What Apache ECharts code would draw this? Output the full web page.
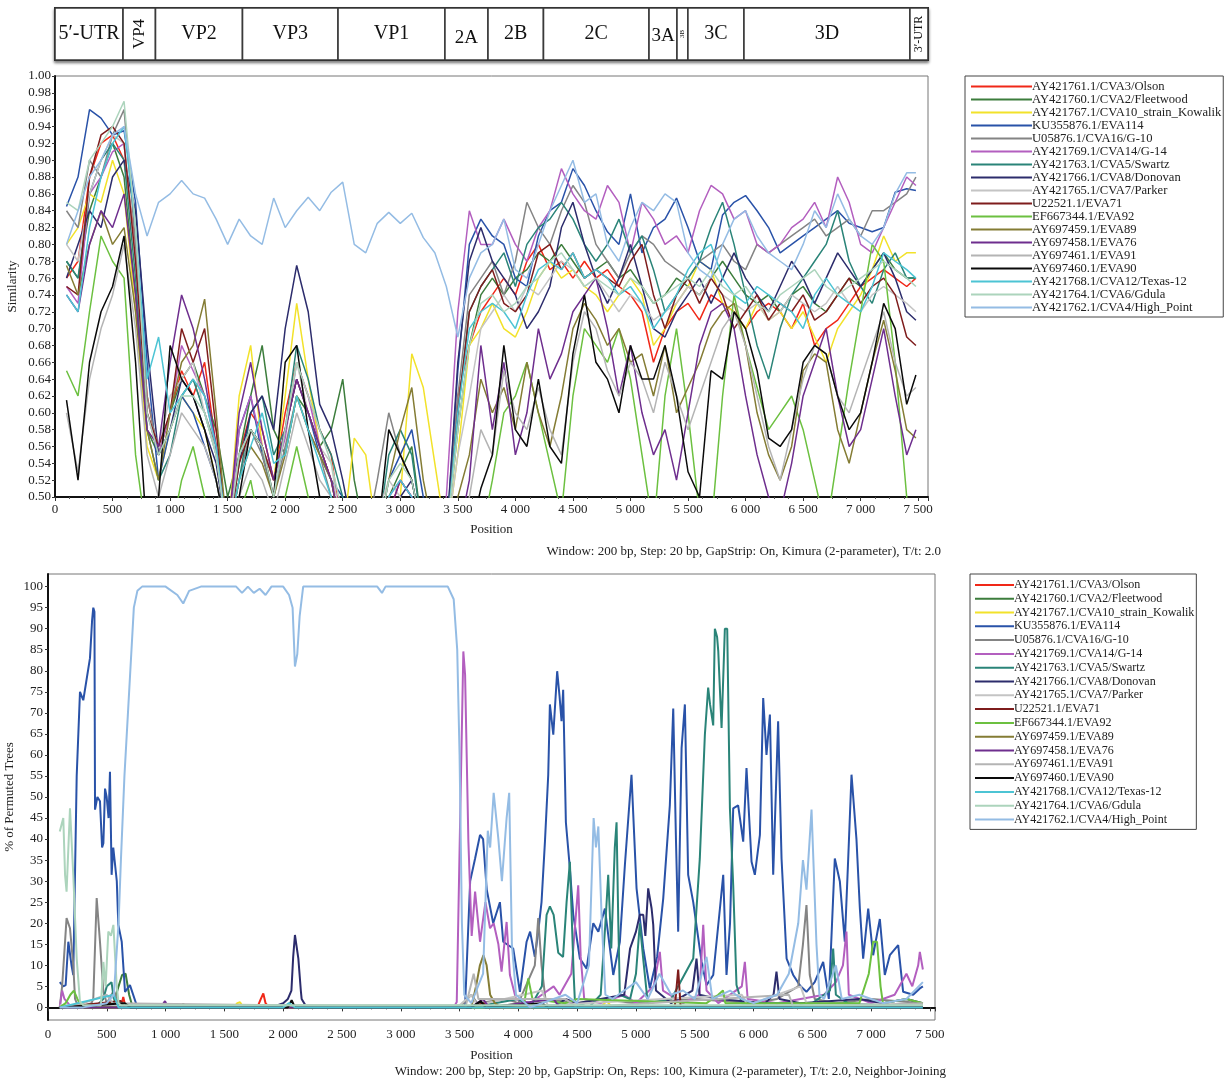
<!DOCTYPE html>
<html><head><meta charset="utf-8">
<script src="https://cdn.jsdelivr.net/npm/echarts@6/dist/echarts.min.js"></script>
<style>html,body{margin:0;padding:0;background:#fff}#c{width:1227px;height:1081px}</style>
</head><body><div id="c"></div><script>
// ---------- genome map ----------
const genomeRegions = ['5′-UTR','VP4','VP2','VP3','VP1','2A','2B','2C','3A','3B','3C','3D','3′-UTR'];
const regionStart = [0,591,873,1629,2459,3388,3762,4244,5161,5404,5499,5986,7428];
const regionEnd   = [591,873,1629,2459,3388,3762,4244,5161,5404,5499,5986,7428,7585];

// ---------- strains ----------
const strainNames = ['AY421761.1/CVA3/Olson','AY421760.1/CVA2/Fleetwood','AY421767.1/CVA10_strain_Kowalik','KU355876.1/EVA114','U05876.1/CVA16/G-10','AY421769.1/CVA14/G-14','AY421763.1/CVA5/Swartz','AY421766.1/CVA8/Donovan','AY421765.1/CVA7/Parker','U22521.1/EVA71','EF667344.1/EVA92','AY697459.1/EVA89','AY697458.1/EVA76','AY697461.1/EVA91','AY697460.1/EVA90','AY421768.1/CVA12/Texas-12','AY421764.1/CVA6/Gdula','AY421762.1/CVA4/High_Point'];
const strainColors = ['#f02818','#3c7d3c','#f2e22a','#2952a8','#848484','#b35fbf','#2a8478','#2c2c6c','#c4c4c4','#7e1c1c','#6cc040','#847c34','#6e2e8e','#b4b4b4','#0a0a0a','#4cc4d4','#acd4bc','#94bce4'];

// ---------- similarity plot (window midpoints) ----------
const positions = [100,200,300,400,500,600,700,800,900,1000,
 1100,1200,1300,1400,1500,1600,1700,1800,1900,2000,
 2100,2200,2300,2400,2500,2600,2700,2800,2900,3000,
 3100,3200,3300,3400,3500,3600,3700,3800,3900,4000,
 4100,4200,4300,4400,4500,4600,4700,4800,4900,5000,
 5100,5200,5300,5400,5500,5600,5700,5800,5900,6000,
 6100,6200,6300,6400,6500,6600,6700,6800,6900,7000,
 7100,7200,7300,7400,7480];

const sim_CVA3 = [0.76,0.78,0.88,0.92,0.93,0.90,0.80,0.62,0.55,0.60,
 0.65,0.62,0.66,0.56,0.45,0.55,0.60,0.58,0.52,0.60,
 0.66,0.62,0.58,0.55,0.45,0.45,0.45,0.45,0.48,0.52,
 0.50,0.45,0.45,0.45,0.62,0.68,0.72,0.74,0.76,0.74,
 0.78,0.80,0.77,0.78,0.76,0.78,0.76,0.77,0.75,0.74,
 0.72,0.66,0.70,0.72,0.73,0.71,0.74,0.73,0.72,0.70,
 0.72,0.73,0.72,0.70,0.73,0.68,0.70,0.71,0.73,0.75,
 0.76,0.77,0.76,0.75,0.76];
const sim_CVA2 = [0.78,0.76,0.84,0.88,0.92,0.88,0.74,0.58,0.55,0.60,
 0.64,0.66,0.62,0.58,0.50,0.55,0.62,0.68,0.58,0.55,
 0.62,0.60,0.56,0.58,0.64,0.52,0.45,0.45,0.50,0.53,
 0.56,0.45,0.45,0.45,0.58,0.68,0.74,0.76,0.74,0.76,
 0.77,0.79,0.78,0.80,0.78,0.76,0.77,0.78,0.76,0.77,
 0.75,0.73,0.74,0.76,0.75,0.74,0.76,0.78,0.76,0.74,
 0.73,0.74,0.72,0.74,0.75,0.73,0.72,0.74,0.76,0.75,
 0.77,0.79,0.77,0.76,0.76];
const sim_CVA10 = [0.80,0.82,0.86,0.85,0.90,0.86,0.72,0.56,0.52,0.58,
 0.62,0.60,0.58,0.52,0.45,0.62,0.68,0.56,0.52,0.62,
 0.73,0.64,0.56,0.52,0.45,0.57,0.55,0.45,0.45,0.50,
 0.67,0.63,0.54,0.45,0.55,0.68,0.70,0.73,0.70,0.69,
 0.72,0.76,0.78,0.76,0.77,0.75,0.74,0.72,0.74,0.76,
 0.74,0.68,0.70,0.73,0.75,0.78,0.77,0.73,0.72,0.70,
 0.73,0.71,0.72,0.70,0.72,0.69,0.66,0.70,0.72,0.74,
 0.77,0.81,0.78,0.79,0.79];
const sim_EVA114 = [0.845,0.88,0.96,0.95,0.93,0.935,0.85,0.66,0.52,0.58,
 0.62,0.60,0.56,0.52,0.45,0.58,0.62,0.55,0.50,0.58,
 0.64,0.60,0.55,0.52,0.50,0.45,0.45,0.45,0.52,0.55,
 0.58,0.50,0.45,0.45,0.65,0.80,0.83,0.81,0.80,0.76,
 0.75,0.81,0.84,0.85,0.89,0.87,0.84,0.815,0.80,0.86,
 0.79,0.82,0.83,0.855,0.82,0.78,0.77,0.835,0.85,0.858,
 0.84,0.82,0.79,0.80,0.81,0.82,0.83,0.84,0.825,0.82,
 0.815,0.82,0.862,0.866,0.864];
const sim_CVA16 = [0.84,0.82,0.90,0.88,0.93,0.96,0.80,0.62,0.55,0.58,
 0.62,0.64,0.60,0.56,0.45,0.52,0.58,0.55,0.50,0.56,
 0.62,0.58,0.55,0.50,0.45,0.45,0.45,0.52,0.60,0.55,
 0.52,0.45,0.45,0.45,0.62,0.74,0.76,0.78,0.74,0.78,
 0.85,0.82,0.80,0.84,0.87,0.85,0.80,0.78,0.76,0.79,
 0.81,0.80,0.78,0.77,0.76,0.78,0.79,0.80,0.78,0.77,
 0.80,0.79,0.80,0.81,0.82,0.83,0.81,0.82,0.83,0.81,
 0.84,0.84,0.85,0.86,0.88];
const sim_CVA14 = [0.75,0.73,0.86,0.88,0.91,0.92,0.78,0.60,0.55,0.60,
 0.68,0.65,0.62,0.56,0.45,0.58,0.62,0.56,0.52,0.57,
 0.66,0.62,0.56,0.52,0.48,0.45,0.45,0.45,0.50,0.52,
 0.50,0.45,0.45,0.50,0.72,0.84,0.80,0.80,0.83,0.80,
 0.78,0.82,0.84,0.89,0.86,0.84,0.83,0.87,0.85,0.79,
 0.85,0.83,0.80,0.81,0.79,0.84,0.87,0.86,0.83,0.84,
 0.80,0.79,0.80,0.82,0.83,0.85,0.82,0.88,0.85,0.80,
 0.79,0.82,0.85,0.88,0.87];
const sim_CVA5 = [0.78,0.76,0.86,0.90,0.92,0.90,0.76,0.58,0.52,0.55,
 0.62,0.64,0.60,0.55,0.45,0.52,0.60,0.62,0.55,0.58,
 0.68,0.64,0.58,0.55,0.50,0.45,0.45,0.45,0.55,0.58,
 0.55,0.45,0.45,0.45,0.60,0.72,0.75,0.77,0.79,0.75,
 0.80,0.82,0.83,0.85,0.83,0.80,0.78,0.80,0.83,0.79,
 0.81,0.77,0.72,0.74,0.76,0.78,0.82,0.85,0.80,0.74,
 0.68,0.64,0.70,0.74,0.76,0.78,0.80,0.84,0.78,0.75,
 0.73,0.77,0.79,0.76,0.76];
const sim_CVA8 = [0.76,0.80,0.84,0.82,0.88,0.90,0.84,0.68,0.55,0.58,
 0.64,0.62,0.58,0.54,0.45,0.54,0.60,0.62,0.58,0.70,
 0.775,0.72,0.61,0.58,0.52,0.45,0.45,0.45,0.48,0.50,
 0.52,0.45,0.45,0.45,0.66,0.78,0.82,0.78,0.76,0.74,
 0.70,0.72,0.75,0.82,0.85,0.80,0.76,0.73,0.76,0.80,
 0.75,0.70,0.69,0.72,0.74,0.76,0.73,0.76,0.79,0.76,
 0.74,0.72,0.75,0.78,0.76,0.73,0.76,0.79,0.77,0.75,
 0.77,0.79,0.76,0.72,0.71];
const sim_CVA7 = [0.80,0.78,0.86,0.90,0.93,0.92,0.78,0.60,0.56,0.62,
 0.64,0.66,0.60,0.55,0.45,0.55,0.58,0.56,0.52,0.58,
 0.66,0.60,0.56,0.54,0.45,0.45,0.45,0.48,0.52,0.50,
 0.48,0.45,0.45,0.45,0.55,0.62,0.70,0.72,0.74,0.72,
 0.75,0.74,0.76,0.78,0.77,0.75,0.76,0.74,0.72,0.74,
 0.73,0.71,0.72,0.73,0.75,0.74,0.76,0.74,0.73,0.72,
 0.73,0.71,0.72,0.74,0.73,0.72,0.73,0.75,0.73,0.72,
 0.74,0.75,0.74,0.73,0.72];
const sim_EVA71 = [0.75,0.74,0.88,0.93,0.94,0.92,0.78,0.60,0.56,0.60,
 0.70,0.66,0.70,0.58,0.45,0.54,0.58,0.56,0.52,0.58,
 0.64,0.60,0.56,0.52,0.45,0.45,0.45,0.45,0.50,0.48,
 0.45,0.45,0.45,0.45,0.60,0.72,0.75,0.77,0.73,0.72,
 0.74,0.79,0.80,0.77,0.79,0.76,0.77,0.76,0.75,0.78,
 0.80,0.74,0.70,0.74,0.76,0.73,0.76,0.74,0.70,0.72,
 0.74,0.71,0.73,0.72,0.74,0.71,0.72,0.74,0.76,0.73,
 0.75,0.76,0.74,0.69,0.68];
const sim_EVA92 = [0.65,0.62,0.72,0.81,0.78,0.76,0.55,0.45,0.45,0.45,
 0.52,0.56,0.50,0.45,0.45,0.48,0.52,0.45,0.45,0.50,
 0.56,0.50,0.45,0.45,0.45,0.45,0.45,0.45,0.45,0.45,
 0.45,0.45,0.45,0.45,0.45,0.45,0.45,0.52,0.60,0.62,
 0.66,0.60,0.54,0.48,0.62,0.70,0.68,0.66,0.70,0.64,
 0.55,0.46,0.62,0.70,0.60,0.48,0.46,0.62,0.74,0.68,
 0.63,0.58,0.60,0.62,0.58,0.52,0.46,0.55,0.64,0.72,
 0.80,0.78,0.66,0.50,0.45];
const sim_EVA89 = [0.775,0.74,0.80,0.84,0.80,0.82,0.72,0.58,0.52,0.60,
 0.66,0.68,0.735,0.60,0.45,0.52,0.56,0.54,0.50,0.55,
 0.62,0.58,0.55,0.52,0.45,0.45,0.45,0.45,0.52,0.58,
 0.63,0.52,0.45,0.45,0.50,0.55,0.64,0.60,0.63,0.58,
 0.66,0.60,0.56,0.62,0.70,0.73,0.71,0.68,0.70,0.66,
 0.67,0.62,0.68,0.60,0.63,0.66,0.70,0.72,0.73,0.68,
 0.60,0.55,0.52,0.56,0.65,0.67,0.66,0.58,0.54,0.60,
 0.66,0.71,0.65,0.58,0.57];
const sim_EVA76 = [0.74,0.72,0.80,0.84,0.82,0.86,0.74,0.58,0.56,0.66,
 0.74,0.70,0.64,0.56,0.45,0.60,0.66,0.58,0.52,0.58,
 0.64,0.60,0.56,0.52,0.45,0.45,0.45,0.45,0.48,0.52,
 0.50,0.45,0.45,0.45,0.45,0.52,0.68,0.58,0.66,0.55,
 0.60,0.70,0.64,0.67,0.72,0.74,0.76,0.70,0.62,0.68,
 0.60,0.55,0.58,0.52,0.60,0.68,0.72,0.73,0.70,0.62,
 0.55,0.50,0.48,0.54,0.62,0.66,0.70,0.62,0.56,0.58,
 0.64,0.70,0.62,0.55,0.58];
const sim_EVA91 = [0.60,0.53,0.64,0.70,0.74,0.80,0.70,0.55,0.50,0.55,
 0.60,0.58,0.56,0.52,0.45,0.50,0.54,0.52,0.48,0.54,
 0.60,0.56,0.52,0.50,0.45,0.45,0.45,0.45,0.45,0.45,
 0.45,0.45,0.45,0.45,0.45,0.50,0.58,0.55,0.65,0.60,
 0.58,0.63,0.58,0.55,0.66,0.72,0.70,0.65,0.62,0.66,
 0.64,0.60,0.66,0.62,0.58,0.62,0.66,0.70,0.72,0.68,
 0.62,0.56,0.52,0.58,0.64,0.68,0.67,0.62,0.60,0.64,
 0.68,0.72,0.66,0.62,0.63];
const sim_EVA90 = [0.615,0.52,0.66,0.72,0.75,0.81,0.66,0.45,0.50,0.68,
 0.64,0.62,0.58,0.52,0.45,0.50,0.58,0.56,0.50,0.66,
 0.68,0.58,0.50,0.45,0.45,0.45,0.45,0.45,0.58,0.55,
 0.52,0.45,0.45,0.45,0.45,0.45,0.51,0.55,0.68,0.58,
 0.56,0.64,0.56,0.54,0.67,0.74,0.66,0.64,0.60,0.68,
 0.64,0.64,0.68,0.62,0.53,0.50,0.65,0.64,0.72,0.70,
 0.65,0.57,0.56,0.58,0.66,0.68,0.67,0.62,0.58,0.60,
 0.66,0.73,0.70,0.61,0.645];
const sim_CVA12 = [0.74,0.72,0.82,0.88,0.92,0.94,0.82,0.64,0.69,0.60,
 0.62,0.64,0.62,0.56,0.45,0.52,0.56,0.60,0.54,0.55,
 0.62,0.58,0.54,0.50,0.45,0.45,0.45,0.45,0.50,0.52,
 0.50,0.45,0.45,0.45,0.60,0.70,0.72,0.73,0.72,0.70,
 0.74,0.77,0.78,0.77,0.79,0.76,0.77,0.76,0.74,0.75,
 0.73,0.70,0.72,0.74,0.77,0.79,0.80,0.76,0.74,0.73,
 0.75,0.74,0.73,0.72,0.70,0.74,0.76,0.74,0.73,0.72,
 0.75,0.79,0.78,0.77,0.76];
const sim_CVA6 = [0.85,0.84,0.90,0.92,0.94,0.97,0.82,0.60,0.55,0.58,
 0.62,0.62,0.60,0.55,0.45,0.55,0.58,0.56,0.50,0.58,
 0.66,0.62,0.58,0.54,0.48,0.45,0.45,0.45,0.52,0.54,
 0.52,0.45,0.45,0.45,0.58,0.68,0.73,0.74,0.72,0.73,
 0.75,0.76,0.78,0.79,0.77,0.75,0.76,0.75,0.74,0.76,
 0.75,0.73,0.74,0.75,0.76,0.75,0.77,0.75,0.74,0.75,
 0.73,0.72,0.74,0.75,0.76,0.77,0.75,0.74,0.75,0.76,
 0.77,0.78,0.77,0.76,0.75];
const sim_CVA4 = [0.80,0.84,0.88,0.90,0.93,0.94,0.86,0.81,0.85,0.86,
 0.876,0.86,0.855,0.83,0.80,0.83,0.81,0.80,0.855,0.82,
 0.84,0.856,0.84,0.862,0.874,0.80,0.79,0.825,0.838,0.825,
 0.837,0.808,0.79,0.75,0.69,0.76,0.79,0.80,0.83,0.77,
 0.76,0.80,0.84,0.87,0.90,0.85,0.86,0.80,0.78,0.82,
 0.85,0.84,0.86,0.85,0.79,0.77,0.76,0.80,0.83,0.84,
 0.81,0.79,0.78,0.77,0.80,0.84,0.82,0.86,0.83,0.81,
 0.80,0.82,0.86,0.885,0.885];

// ---------- bootscan (% of permuted trees), [position, %] ----------
const pt_CVA3 = [[100,0],[620,0],[640,2.5],[660,0],[1780,0],[1810,2],[1831,3.3],[1850,1],[1880,0],[4980,0],[5000,1.5],[5020,0],[7440,0]];
const pt_CVA2 = [[100,0],[560,1],[600,5],[630,7.7],[660,8],[690,3],[720,0],[1140,0],[1150,1],[1160,0],[7440,0]];
const pt_CVA10 = [[100,0],[1580,0],[1610,1],[1633,1.2],[1660,0],[4700,0],[4750,1.5],[4800,0],[7440,0]];
const pt_EVA114 = [[100,6],[130,5],[150,5.3],[173,15.6],[200,10],[215,7.7],[244,55],[272,75],[300,73],[315,72.7],[357,83],[375,92],[385,95],[395,94],[400,47],[420,50],[442,49],[460,38],[471,39],[485,52],[499,50],[515,45],[527,56],[541,31.5],[555,38],[570,37.8],[585,30],[598,19.6],[627,15.6],[655,3.7],[697,5.3],[754,0.5],[1000,0],[3500,0],[3547,0.5],[3590,30],[3632,35.4],[3674,41],[3700,40],[3731,28],[3786,20],[3843,25],[3871,15.6],[3956,14],[4013,3.7],[4070,15.6],[4100,18],[4140,12],[4169,18],[4197,25],[4226,39.4],[4254,55.3],[4268,72],[4297,64.8],[4330,79.9],[4350,74],[4367,68],[4381,75.5],[4404,44],[4438,33],[4467,22],[4523,11.6],[4580,9.2],[4637,20],[4680,18],[4736,23.5],[4807,7.7],[4863,15.6],[4906,33.9],[4962,55.3],[5005,28.3],[5062,14],[5118,4.5],[5180,12],[5232,25.9],[5288,48],[5317,71],[5340,40],[5359,18],[5388,61.6],[5416,72],[5444,31.5],[5487,25],[5558,10.8],[5600,5.3],[5657,7.7],[5714,23.5],[5742,31.5],[5770,7.7],[5800,20],[5827,47.3],[5869,48],[5912,39.4],[5940,56.9],[5983,34.6],[6011,31.5],[6054,41],[6082,73.5],[6110,60],[6139,69.6],[6167,31.5],[6209,68],[6238,35.4],[6281,11.6],[6337,7.7],[6400,5],[6450,3.7],[6520,6],[6592,10.8],[6640,2],[6691,35.4],[6734,29.9],[6776,15.6],[6805,35.4],[6833,55.3],[6875,40],[6904,23.5],[6932,11.6],[6975,23.5],[7017,12.4],[7074,21],[7116,7.7],[7159,12.4],[7230,14.8],[7272,3.7],[7357,3],[7414,4.5],[7440,5]];
const pt_CVA16 = [[100,0],[120,5],[130,9.2],[158,21.2],[187,18.8],[215,10],[230,2],[260,0],[370,1],[385,2],[414,26],[442,15.6],[471,3.7],[500,1],[560,4],[600,1],[700,0],[3500,0],[3600,3],[3650,1],[3900,2],[4000,1],[4140,10],[4169,21.2],[4197,10],[4230,2],[4500,1],[4700,2],[5000,1],[5500,2],[6000,1],[6200,2],[6380,5],[6420,15],[6450,24.3],[6478,7.7],[6520,2],[6700,1],[7000,2],[7440,1]];
const pt_CVA14 = [[100,0],[120,4],[140,2],[200,0],[3450,0],[3476,1.3],[3504,43.4],[3532,84.6],[3547,79],[3575,39.4],[3603,17],[3632,27.5],[3674,15.6],[3720,25],[3759,18.8],[3790,20],[3830,15],[3857,8.5],[3900,20.3],[3928,7.7],[3980,2],[4100,1],[4200,3],[4300,5],[4350,3],[4450,8],[4509,29],[4530,12],[4560,2],[4700,1],[4900,3],[5000,1],[5150,5],[5203,13.2],[5230,4],[5400,1],[5540,3],[5572,19.6],[5600,4],[5700,1],[5900,5],[5926,10.8],[5950,2],[6200,1],[6400,2],[6600,3],[6700,6],[6760,10],[6790,18],[6810,3],[7000,1],[7200,3],[7300,8],[7350,5],[7400,10],[7414,13.2],[7440,9]];
const pt_CVA5 = [[100,0],[400,0],[470,2],[500,5],[540,6],[560,2],[700,0],[3600,0],[3800,1],[4000,2],[4100,0],[4200,5],[4240,22],[4268,24],[4300,22],[4339,13],[4380,12],[4410,25],[4438,34.6],[4470,8],[4481,1.3],[4600,0],[4700,3],[4740,20],[4764,31.5],[4790,14],[4820,38],[4835,44],[4850,20],[4863,3],[4950,2],[5000,8],[5033,20],[5060,12],[5100,1],[5300,2],[5487,11.6],[5543,35.4],[5586,64.8],[5614,76],[5630,72],[5657,67],[5671,90],[5690,88],[5700,84.6],[5728,66.4],[5756,90],[5776,90],[5799,47.3],[5827,29],[5855,5.3],[5900,1],[6500,1],[6650,4],[6677,14],[6700,3],[6800,1],[7440,0]];
const pt_CVA8 = [[100,0],[1900,0],[2000,1],[2040,2],[2070,4],[2085,12],[2100,17.2],[2129,11.6],[2150,4],[2157,2],[2200,0],[4300,0],[4400,2],[4500,1],[4900,3],[4950,14],[5000,18],[5033,22],[5062,22],[5080,17],[5104,28.3],[5133,23.5],[5147,19.6],[5170,4],[5300,1],[5480,4],[5515,11.6],[5540,3],[5700,2],[6100,1],[6170,3],[6195,8.5],[6220,2],[6400,1],[6900,2],[7100,1],[7300,2],[7440,1]];
const pt_CVA7 = [[100,0.5],[3500,0.5],[3600,3],[3650,0.5],[4200,4],[4250,0.5],[5900,3],[5950,0.5],[6400,5],[6450,1],[7440,0.5]];
const pt_EVA71 = [[100,0],[620,1.5],[650,0],[3600,0],[3700,1],[3750,0],[5330,0],[5359,9],[5380,0],[7440,0]];
const pt_EVA92 = [[100,0],[150,1],[190,3],[220,4],[250,2],[290,0],[3700,0],[4050,1],[4084,6.9],[4120,2],[4400,1],[4500,2],[5600,1],[5700,3],[5740,4],[5760,1],[6900,1],[6980,8],[7017,15.6],[7050,15.6],[7080,5],[7100,1],[7300,2],[7440,1]];
const pt_EVA89 = [[100,0],[3600,0],[3640,5],[3673,10],[3703,12.4],[3730,10],[3760,3],[3800,1],[3850,0],[7440,0]];
const pt_EVA76 = [[100,0],[960,0],[995,1.5],[1020,0],[3600,0],[3700,2],[3750,0],[4300,2],[4350,0],[7440,0]];
const pt_EVA91 = [[100,0],[300,1],[500,3],[550,1],[3550,0],[3620,8],[3660,2],[4400,2],[4500,0],[6300,3],[6340,0],[7440,1]];
const pt_EVA90 = [[100,0],[650,1],[700,0],[2040,0],[2072,1.7],[2100,0],[3600,0],[3680,1.5],[3720,0],[4200,1],[4250,0],[7440,0]];
const pt_CVA12 = [[100,0],[560,3],[600,0],[2000,0],[2050,1],[2100,0],[7440,0]];
const pt_CVA6 = [[100,41.8],[130,45],[145,31.5],[158,27.5],[187,47.3],[215,31.5],[244,11.6],[272,1.3],[300,0.5],[450,0.5],[471,10.8],[490,5],[513,18],[535,17],[556,19.6],[584,5.3],[600,1],[620,0.5],[7440,0.5]];
const pt_CVA4 = [[100,0],[300,0],[500,1],[560,3],[600,20],[620,35],[650,55],[680,70],[700,80],[730,95],[760,99],[800,100],[1000,100],[1100,98],[1150,96],[1200,99],[1300,100],[1600,100],[1650,98.5],[1700,100],[1750,98.5],[1800,99.5],[1850,98],[1900,100],[2000,100],[2050,98],[2080,95],[2100,81],[2120,84],[2140,93],[2170,100],[2800,100],[2840,98.5],[2870,100],[3400,100],[3450,97],[3480,85],[3500,60],[3520,20],[3540,3],[3600,1],[3700,8],[3740,42],[3760,38],[3790,51],[3830,40],[3860,30],[3900,45],[3922,51],[3945,15],[3980,3],[4100,0],[4300,2],[4400,3],[4500,1],[4600,10],[4640,45],[4660,38],[4680,43],[4710,20],[4740,3],[4800,2],[4900,4],[5000,6],[5100,2],[5200,8],[5300,3],[5400,4],[5500,2],[5600,12],[5650,2],[5800,4],[5900,2],[6000,1],[6100,2],[6200,3],[6300,8],[6380,20],[6420,35],[6450,28],[6493,47],[6535,15],[6560,3],[6600,2],[6700,10],[6750,2],[6900,3],[7100,1],[7300,2],[7440,6]];

const simSeries = [sim_CVA3,sim_CVA2,sim_CVA10,sim_EVA114,sim_CVA16,sim_CVA14,sim_CVA5,sim_CVA8,sim_CVA7,sim_EVA71,sim_EVA92,sim_EVA89,sim_EVA76,sim_EVA91,sim_EVA90,sim_CVA12,sim_CVA6,sim_CVA4];
const permSeries = [pt_CVA3,pt_CVA2,pt_CVA10,pt_EVA114,pt_CVA16,pt_CVA14,pt_CVA5,pt_CVA8,pt_CVA7,pt_EVA71,pt_EVA92,pt_EVA89,pt_EVA76,pt_EVA91,pt_EVA90,pt_CVA12,pt_CVA6,pt_CVA4];

const simTicks = [0.50,0.52,0.54,0.56,0.58,0.60,0.62,0.64,0.66,0.68,0.70,0.72,0.74,0.76,0.78,0.80,0.82,0.84,0.86,0.88,0.90,0.92,0.94,0.96,0.98,1.00];
const permTicks = [0,5,10,15,20,25,30,35,40,45,50,55,60,65,70,75,80,85,90,95,100];

// ---------- styling helpers ----------
const SERIF = "'Liberation Serif','Times New Roman',serif";
const labelStyleOf = {
  'VP4': {rot: true, size: 17, dy: 0},
  '3B': {rot: true, size: 7, dy: 0},
  '3′-UTR': {rot: true, size: 12, dy: 0},
  '2A': {rot: false, size: 19, dy: 4},
  '3A': {rot: false, size: 19, dy: 2}
};
const fmtPos = v => (v % 500 !== 0) ? '' : String(v).replace(/\B(?=(\d{3})+(?!\d))/g, ' ');

const chart = echarts.init(document.getElementById('c'), null, {renderer: 'canvas'});

const series = [{
  type: 'custom', xAxisIndex: 0, yAxisIndex: 0,
  data: genomeRegions.map((n, i) => [regionStart[i], regionEnd[i]]),
  encode: {x: [0, 1]},
  renderItem: function (params, api) {
    const s = api.coord([api.value(0), 1]);
    const e = api.coord([api.value(1), 0]);
    const name = genomeRegions[params.dataIndex];
    const st = labelStyleOf[name] || {rot: false, size: 20, dy: 0};
    return {type: 'group', children: [
      {type: 'rect', shape: {x: s[0], y: s[1], width: e[0] - s[0], height: e[1] - s[1]},
       style: {fill: '#fff', stroke: '#3a3a3a', lineWidth: 1.6}},
      {type: 'text', x: (s[0] + e[0]) / 2, y: (s[1] + e[1]) / 2 + st.dy, rotation: st.rot ? Math.PI / 2 : 0,
       style: {text: name, fontSize: st.size, fontFamily: SERIF, fill: '#111', align: 'center', verticalAlign: 'middle'}}
    ]};
  }
}];

strainNames.forEach((name, k) => {
  series.push({
    name: name, type: 'line', xAxisIndex: 1, yAxisIndex: 1,
    data: positions.map((p, i) => [p, simSeries[k][i]]),
    showSymbol: false, clip: true, animation: false,
    lineStyle: {width: 1.5, color: strainColors[k]}, itemStyle: {color: strainColors[k]}
  });
});
strainNames.forEach((name, k) => {
  series.push({
    name: name, type: 'line', xAxisIndex: 2, yAxisIndex: 2,
    data: permSeries[k],
    showSymbol: false, clip: true, animation: false,
    lineStyle: {width: 2, color: strainColors[k]}, itemStyle: {color: strainColors[k]}
  });
});

const axisText = {fontFamily: SERIF, fontSize: 13, color: '#222'};
const legendBase = {
  orient: 'vertical', icon: 'rect', itemHeight: 2, itemGap: 0, selectedMode: false,
  borderColor: '#444', borderWidth: 1, data: strainNames
};

chart.setOption({
  backgroundColor: '#ffffff',
  animation: false,
  title: [
    {text: 'Window: 200 bp, Step: 20 bp, GapStrip: On, Kimura (2-parameter), T/t: 2.0', right: 286, top: 545, padding: 0,
     textStyle: {fontFamily: SERIF, fontSize: 13, fontWeight: 'normal', color: '#222'}},
    {text: 'Window: 200 bp, Step: 20 bp, GapStrip: On, Reps: 100, Kimura (2-parameter), T/t: 2.0, Neighbor-Joining', right: 281, top: 1065, padding: 0,
     textStyle: {fontFamily: SERIF, fontSize: 13, fontWeight: 'normal', color: '#222'}}
  ],
  legend: [
    Object.assign({}, legendBase, {left: 965, top: 76, itemWidth: 61, padding: [4, 2, 3, 6],
      textStyle: {fontFamily: SERIF, fontSize: 12.6, color: '#222', lineHeight: 13, padding: [0, 0, 0, -5]}}),
    Object.assign({}, legendBase, {left: 970, top: 574, itemWidth: 39, padding: [4, 2, 3, 5],
      textStyle: {fontFamily: SERIF, fontSize: 12, color: '#222', lineHeight: 13.8, padding: [0, 0, 0, -5]}})
  ],
  grid: [
    {left: 55, top: 8, width: 873, height: 52, show: true, backgroundColor: '#fff', borderColor: '#222', borderWidth: 2,
     shadowColor: 'rgba(0,0,0,0.45)', shadowBlur: 3, shadowOffsetY: 2, outerBoundsMode: 'none', containLabel: false},
    {left: 55, top: 76, width: 873, height: 421, show: true, backgroundColor: '#fff', borderColor: '#777', borderWidth: 1,
     outerBoundsMode: 'none', containLabel: false},
    {left: 48, top: 574, width: 887, height: 446, show: true, backgroundColor: '#fff', borderColor: '#777', borderWidth: 1,
     outerBoundsMode: 'none', containLabel: false}
  ],
  xAxis: [
    {gridIndex: 0, type: 'value', min: 0, max: 7585, show: false},
    {gridIndex: 1, type: 'value', min: 0, max: 7585, interval: 500,
     name: 'Position', nameLocation: 'middle', nameGap: 26, nameMoveOverlap: false, nameTextStyle: axisText,
     axisLine: {lineStyle: {color: '#111', width: 2}}, axisTick: {length: 4, lineStyle: {color: '#333'}},
     minorTick: {show: true, splitNumber: 4, length: 2, lineStyle: {color: '#555'}},
     axisLabel: Object.assign({formatter: fmtPos, margin: 6}, axisText), splitLine: {show: false}},
    {gridIndex: 2, type: 'value', min: 0, max: 7543, interval: 500,
     name: 'Position', nameLocation: 'middle', nameGap: 29, nameMoveOverlap: false, nameTextStyle: axisText,
     axisLine: {lineStyle: {color: '#111', width: 2}}, axisTick: {length: 4, lineStyle: {color: '#333'}},
     minorTick: {show: true, splitNumber: 4, length: 2, lineStyle: {color: '#555'}},
     axisLabel: Object.assign({formatter: fmtPos, margin: 8}, axisText), splitLine: {show: false}}
  ],
  yAxis: [
    {gridIndex: 0, type: 'value', min: 0, max: 1, show: false},
    {gridIndex: 1, type: 'value', min: 0.5, max: 1.0, interval: 0.02,
     name: 'Similarity', nameLocation: 'middle', nameGap: 36, nameMoveOverlap: false, nameTextStyle: axisText,
     axisLine: {show: true, lineStyle: {color: '#111', width: 2}}, axisTick: {show: true, length: 3, lineStyle: {color: '#333'}},
     axisLabel: Object.assign({formatter: v => v.toFixed(2), margin: 4, customValues: simTicks}, axisText), splitLine: {show: false}},
    {gridIndex: 2, type: 'value', min: -3, max: 103,
     name: '% of Permuted Trees', nameLocation: 'middle', nameGap: 32, nameMoveOverlap: false, nameTextStyle: axisText,
     axisLine: {show: true, lineStyle: {color: '#111', width: 2}},
     axisTick: {show: true, length: 3, customValues: permTicks, lineStyle: {color: '#333'}},
     axisLabel: Object.assign({margin: 5, customValues: permTicks}, axisText), splitLine: {show: false}}
  ],
  series: series
});
</script></body></html>
